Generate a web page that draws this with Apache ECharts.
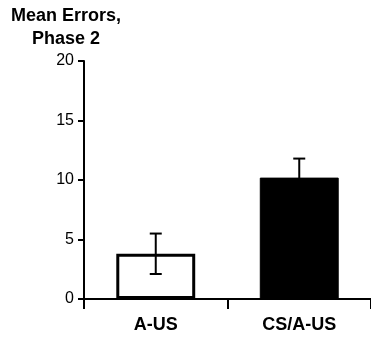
<!DOCTYPE html>
<html>
<head>
<meta charset="utf-8">
<script src="https://cdn.jsdelivr.net/npm/echarts@6/dist/echarts.min.js"></script>
<style>html,body{margin:0;padding:0;background:#fff;}#c{width:371px;height:337px;}</style>
</head>
<body>
<div id="c"></div>
<script>
var categories = ['A-US', 'CS/A-US'];
var means = [3.8, 10.2];
var errors = [1.7, 1.6];
var yTicks = [0, 5, 10, 15, 20];
var titleText = 'Mean Errors,\nPhase 2';

var FONT = '"Liberation Sans", Arial, Helvetica, sans-serif';
var chart = echarts.init(document.getElementById('c'), null, {renderer: 'canvas'});

var barData = means.map(function (v, i) {
  return {
    value: v,
    itemStyle: i === 0
      ? {color: '#ffffff', borderColor: '#000000', borderWidth: 3}
      : {color: '#000000', borderColor: '#000000', borderWidth: 1}
  };
});
var errData = means.map(function (v, i) { return [i, v - errors[i], v + errors[i]]; });

chart.setOption({
  animation: false,
  backgroundColor: '#ffffff',
  graphic: [{
    type: 'text',
    x: 66, y: 5,
    style: {
      text: titleText,
      font: 'bold 18px ' + FONT,
      fill: '#000',
      align: 'center',
      verticalAlign: 'top',
      lineHeight: 23
    }
  }],
  grid: {left: 84, right: -3, top: 61, bottom: 38, containLabel: false},
  xAxis: {
    type: 'category',
    data: categories,
    boundaryGap: true,
    axisLine: {lineStyle: {color: '#000', width: 2}},
    axisTick: {show: true, length: 10, alignWithLabel: false, lineStyle: {color: '#000', width: 2}},
    axisLabel: {color: '#000', fontFamily: FONT, fontWeight: 'bold', fontSize: 18, margin: 17}
  },
  yAxis: {
    type: 'value',
    min: yTicks[0], max: yTicks[yTicks.length - 1], interval: 5,
    axisLine: {show: true, lineStyle: {color: '#000', width: 2}},
    axisTick: {show: true, length: 6, lineStyle: {color: '#000', width: 2}},
    axisLabel: {color: '#000', fontFamily: FONT, fontSize: 16, margin: 10},
    splitLine: {show: false}
  },
  series: [{
    type: 'bar',
    data: barData,
    barWidth: '55%',
    z: 2
  }, {
    type: 'custom',
    data: errData,
    z: 3,
    renderItem: function (params, api) {
      var x = api.value(0);
      var lo = api.coord([x, api.value(1)]);
      var hi = api.coord([x, api.value(2)]);
      var cw = 6;
      var st = {stroke: '#000', lineWidth: 2};
      return {
        type: 'group',
        children: [
          {type: 'line', shape: {x1: lo[0], y1: lo[1], x2: hi[0], y2: hi[1]}, style: st},
          {type: 'line', shape: {x1: hi[0] - cw, y1: hi[1], x2: hi[0] + cw, y2: hi[1]}, style: st},
          {type: 'line', shape: {x1: lo[0] - cw, y1: lo[1], x2: lo[0] + cw, y2: lo[1]}, style: st}
        ]
      };
    }
  }]
});
</script>
</body>
</html>
